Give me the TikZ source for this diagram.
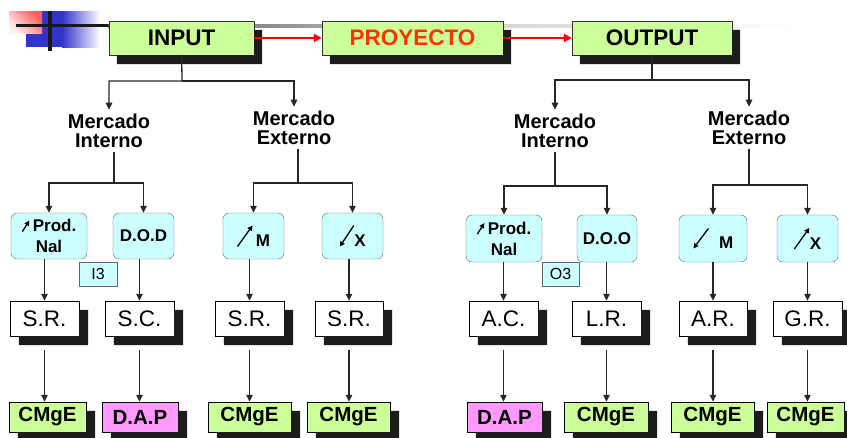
\documentclass[tikz,border=0pt]{standalone}
\usepackage{fontspec}
\setmainfont{Liberation Sans}
\usetikzlibrary{arrows.meta,positioning}
\definecolor{boxgreen}{HTML}{CCFF99}
\definecolor{boxcyan}{HTML}{CCFFFF}
\definecolor{boxpink}{HTML}{FF99FF}
\definecolor{projred}{HTML}{FF3300}
\definecolor{logoblue}{HTML}{3333CC}
\definecolor{shadowgray}{HTML}{1C1C1C}
\tikzset{>={Triangle[length=7pt,width=6.5pt]}}
\newcommand{\arrup}[2]{\tikz[baseline=0pt,x=1pt,y=1pt]\draw[-{Triangle[length=5pt,width=5pt]},line width=1.3pt] (0,0)--(#1,#2);}
\newcommand{\arrdn}[2]{\tikz[baseline=0pt,x=1pt,y=1pt]\draw[-{Triangle[length=5pt,width=5pt]},line width=1.3pt] (#1,#2)--(0,0);}

\begin{document}
\begin{tikzpicture}[x=1pt,y=-1pt,
  topbox/.style={draw=black!80,fill=boxgreen,minimum height=34pt,inner sep=0pt,font=\bfseries\fontsize{22.5}{24}\selectfont},
  mercado/.style={align=center,inner sep=4pt,font=\bfseries\fontsize{20}{19.5}\selectfont},
  opbox/.style={draw=black!60,fill=boxcyan,rounded corners=6pt,minimum height=46pt,inner sep=1pt,align=center,font=\bfseries\fontsize{17}{21}\selectfont},
  tagbox/.style={draw=black!60,fill=boxcyan,minimum width=38pt,minimum height=24pt,inner sep=0pt,font=\fontsize{16}{16}\selectfont},
  resbox/.style={draw=black,fill=white,minimum width=69pt,minimum height=35pt,inner sep=0pt,font=\fontsize{22.5}{22}\selectfont},
  endbox/.style={draw=black,minimum height=30pt,inner sep=0pt,font=\bfseries\fontsize{20.5}{20}\selectfont},
  conn/.style={->,line width=1.3pt,black!85},
  redarr/.style={-{Triangle[length=8pt,width=8pt]},line width=2pt,red}]
\useasboundingbox (0,0) rectangle (847,437);

% logo and top rule
\fill[logoblue] (26,11) rectangle (62,47);
\shade[left color=logoblue,right color=white] (62,11) rectangle (100,47);
\shade[top color=red!65,bottom color=red!5,shading angle=-45] (9,11) rectangle (42,33);
\shade[left color=black!70,right color=black!20] (108,24) rectangle (420,27.5);
\shade[left color=black!20,right color=white] (420,24) rectangle (800,27.5);
\draw[line width=3.5pt,black!90] (16,25.7) -- (108,25.7);
\draw[line width=3.5pt,black!90] (50,11) -- (50,51);

% top row
\node[topbox,minimum width=145pt] (inp) at (181.5,38) {INPUT};
\node[topbox,minimum width=181pt,text=projred] (proy) at (412.5,38) {PROYECTO};
\node[topbox,minimum width=160pt] (outp) at (652,38) {OUTPUT};

% markets
\node[mercado] (mia) at (109,131) {Mercado\\Interno};
\node[mercado] (mea) at (294,128) {Mercado\\Externo};
\node[mercado] (mib) at (555,131) {Mercado\\Interno};
\node[mercado] (meb) at (749,128) {Mercado\\Externo};

% effects
\node[opbox,minimum width=76pt] (pa) at (49,236) {\arrup{7}{11}\,Prod.\\Nal};
\node[opbox,minimum width=61pt] (pb) at (143.5,236) {D.O.D};
\node[opbox,minimum width=61pt] (pc) at (253.5,236) {\arrup{15}{21}\,M};
\node[opbox,minimum width=61pt] (pd) at (352.5,236) {\arrdn{14}{21}X};
\node[opbox,minimum width=76pt,minimum height=47pt] (pe) at (504,238.5) {\arrup{7}{11}\,Prod.\\Nal};
\node[opbox,minimum width=60pt,minimum height=47pt] (pf) at (607,238.5) {D.O.O};
\node[opbox,minimum width=68pt,minimum height=47pt] (pg) at (713,238.5) {\arrdn{15}{20}\hspace{10pt}M};
\node[opbox,minimum width=61pt,minimum height=47pt] (ph) at (807.5,238.5) {\arrup{15}{21}X};
\node[tagbox] (ia) at (98,274) {I3};
\node[tagbox,minimum width=37pt] (ib) at (560.5,274) {O3};

% valuation
\foreach \n/\x/\w/\t in {sa/44.5/69/S.R., sb/139.5/69/S.C., sc/249.5/69/S.R., sd/349/68/S.R.,
    se/503.5/69/A.C., sf/606.5/69/L.R., sg/713/68/A.R., sh/807.5/69/G.R.}
  \node[resbox,minimum width=\w pt] (\n) at (\x,318.5) {\t};

\foreach \n/\x/\w/\t/\c in {ea/47.5/77/CMgE/boxgreen, eb/140/76/D.A.P/boxpink, ec/249.5/83/CMgE/boxgreen,
    ed/348.5/83/CMgE/boxgreen, ee/504.5/75/D.A.P/boxpink, ef/606/84/CMgE/boxgreen,
    eg/712.5/83/CMgE/boxgreen, eh/805.5/77/CMgE/boxgreen}
  \node[endbox,fill=\c,minimum width=\w pt] (\n) at (\x,417) {\t};

% shadows (only the part that shows)
\foreach \n/\dx/\dy in {inp/8/9, proy/8/9, outp/8/9, sa/9/9, sb/9/9, sc/9/9, sd/9/9, se/9/9, sf/9/9,
    sg/9/9, sh/9/9, ea/9/9, eb/9/9, ec/9/9, ed/9/9, ee/9/9, ef/9/9, eg/9/9, eh/9/9}
  \fill[shadowgray] ([yshift=-\dy pt]\n.north east) -- ([shift={(\dx,\dy)}]\n.north east)
    -- ([shift={(\dx,\dy)}]\n.south east) -- ([shift={(\dx,\dy)}]\n.south west)
    -- ([xshift=\dx pt]\n.south west) -- (\n.south east) -- cycle;

% connectors
\draw[redarr] (inp) -- (proy);
\draw[redarr] (proy) -- (outp);

\coordinate (fi) at (182,81);
\coordinate (fo) at (652,80);
\draw[conn] (inp) -- (fi) -| (mia);
\draw[conn] (fi) -| (mea);
\draw[conn] (outp) -- (fo) -| (mib);
\draw[conn] (fo) -| (meb);

\coordinate (fa) at (114,183);
\coordinate (fb) at (298,183);
\coordinate (fc) at (555,186);
\coordinate (fd) at (749,185);
\draw[conn] (mia.south -| fa) -- (fa) -| (pa);
\draw[conn] (fa) -| (pb);
\draw[conn] (mea.south -| fb) -- (fb) -| (pc);
\draw[conn] (fb) -| (pd);
\draw[conn] (mib.south -| fc) -- (fc) -| (pe);
\draw[conn] (fc) -| (pf);
\draw[conn] (meb.south -| fd) -- (fd) -| (pg);
\draw[conn] (fd) -| (ph);

\foreach \a/\b in {pa/sa, pb/sb, pc/sc, pd/sd, pe/se, pf/sf, pg/sg, ph/sh}
  \draw[conn] (\a.south -| \b) -- (\b);
\foreach \a/\b in {sa/ea, sb/eb, sc/ec, sd/ed, se/ee, sf/ef, sg/eg, sh/eh}
  \draw[conn] ([yshift=-14pt]\a.south) -- (\a.south |- \b.north);
\end{tikzpicture}
\end{document}
